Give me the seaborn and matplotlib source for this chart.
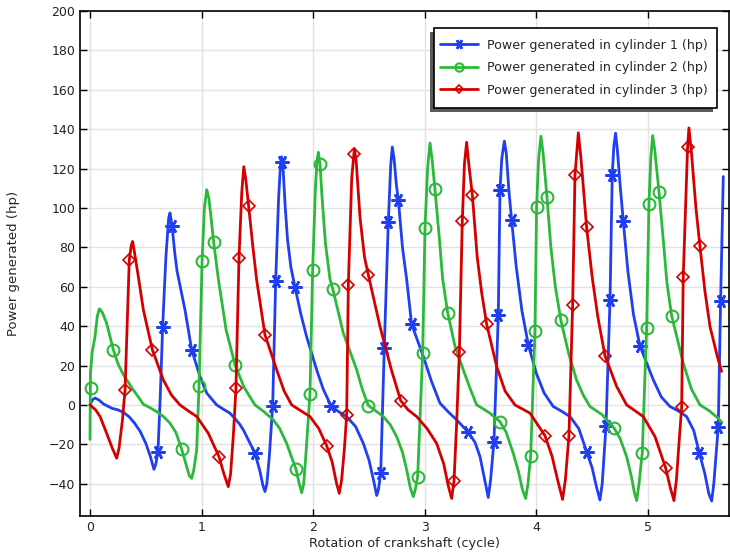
import numpy as np
import pandas as pd
import matplotlib
matplotlib.use("Agg")
import matplotlib.pyplot as plt
from matplotlib.lines import Line2D
from matplotlib.patches import Rectangle
import seaborn as sns

# cylinder 1 (blue) - curve
cyl1_x = [0.0, 0.02, 0.045, 0.08, 0.12, 0.155, 0.2, 0.25, 0.30, 0.35, 0.40, 0.45, 0.50, 0.54, 0.573,
          0.59, 0.609, 0.63, 0.651, 0.68, 0.705, 0.717, 0.735, 0.76, 0.78, 0.851, 0.911, 0.986, 1.046,
          1.135, 1.19, 1.254, 1.30, 1.344, 1.374, 1.43, 1.478, 1.52, 1.55, 1.568, 1.585, 1.607, 1.637,
          1.664, 1.69, 1.707, 1.717, 1.73, 1.75, 1.77, 1.80, 1.837, 1.89, 1.941, 2.031, 2.09, 2.16,
          2.23, 2.30, 2.38, 2.449, 2.50, 2.54, 2.569, 2.585, 2.605, 2.637, 2.673, 2.695, 2.709, 2.725,
          2.745, 2.763, 2.80, 2.838, 2.882, 2.987, 3.06, 3.136, 3.21, 3.286, 3.39, 3.45, 3.495, 3.53,
          3.569, 3.59, 3.62, 3.659, 3.674, 3.69, 3.713, 3.73, 3.755, 3.778, 3.82, 3.87, 3.928, 4.00,
          4.07, 4.151, 4.22, 4.301, 4.38, 4.45, 4.50, 4.54, 4.57, 4.59, 4.624, 4.66, 4.68, 4.695, 4.71,
          4.725, 4.75, 4.779, 4.82, 4.87, 4.928, 5.048, 5.12, 5.197, 5.27, 5.346, 5.41, 5.46, 5.51,
          5.545, 5.571, 5.59, 5.63, 5.651, 5.675]
cyl1_y = [0.0, 2.5, 3.5, 2.5, 0.5, -0.5, -1.8, -2.5, -3.8, -6, -9.3, -13.5, -19.5, -26, -32.7,
          -30, -23.7, 5, 39.8, 75, 95, 97.5, 91, 77, 68, 48.3, 28, 14.4, 6,
          0, -2, -4.2, -7, -10, -12.7, -19, -24.6, -33, -41, -44, -40, -26, -0.3,
          63, 105, 122, 126, 120, 100, 84, 70, 59.8, 46, 34.7, 17.8, 8, -0.5,
          -3.5, -5.9, -11, -19.5, -28, -38, -46, -43, -34.8, 28.8, 92.7, 122, 131, 125,
          112, 104.2, 80, 63.6, 41, 24.6, 12, 0.9, -3.5, -7.6, -13.9, -19, -26.3, -36,
          -47, -38, -18.6, 45.8, 109.3, 125, 134, 128, 108, 94, 70, 48, 30.5, 16,
          6, -0.8, -3, -5.9, -12, -23.7, -32, -42, -48.3, -40, -10.7, 53.4, 117, 132, 138,
          130, 112, 93.2, 68, 46, 30, 12.7, 4, -0.8, -3, -5.9, -13, -24.2, -35,
          -45, -48.8, -40, -11, 52.9, 116]

# cylinder 2 (green)
cyl2_x = [0.0, 0.004, 0.02, 0.045, 0.065, 0.084, 0.11, 0.149, 0.209, 0.25, 0.299, 0.388, 0.44, 0.478,
          0.54, 0.597, 0.66, 0.717, 0.77, 0.821, 0.86, 0.89, 0.911, 0.93, 0.956, 0.977, 1.004, 1.025,
          1.046, 1.065, 1.085, 1.108, 1.15, 1.22, 1.30, 1.38, 1.478, 1.56, 1.643, 1.70, 1.762, 1.846,
          1.875, 1.897, 1.915, 1.935, 1.971, 1.995, 2.02, 2.035, 2.046, 2.061, 2.08, 2.11, 2.15, 2.175,
          2.27, 2.39, 2.44, 2.494, 2.56, 2.628, 2.69, 2.748, 2.80, 2.838, 2.87, 2.897, 2.915, 2.936,
          2.981, 3.002, 3.025, 3.047, 3.065, 3.091, 3.13, 3.16, 3.205, 3.27, 3.345, 3.405, 3.465, 3.524,
          3.584, 3.674, 3.73, 3.793, 3.84, 3.875, 3.904, 3.925, 3.949, 3.987, 4.002, 4.02, 4.041, 4.06,
          4.095, 4.13, 4.17, 4.22, 4.29, 4.36, 4.42, 4.48, 4.59, 4.698, 4.75, 4.809, 4.85, 4.88, 4.899,
          4.92, 4.949, 4.988, 5.009, 5.025, 5.042, 5.06, 5.099, 5.14, 5.17, 5.212, 5.316, 5.39, 5.466,
          5.55, 5.63, 5.655]
cyl2_y = [-17.5, 16, 27, 34.7, 45, 48.8, 47, 41.5, 28, 21, 15.3, 7.6, 3.5, 0.3,
          -1.5, -3.4, -6, -9.3, -14, -22.4, -30, -36, -37.3, -33, -22.9, 9.7, 72.9, 100,
          109.3, 105, 95, 82.7, 64, 38, 20.3, 9, 0, -3.5, -7.6, -12, -19.5, -32.7,
          -40, -44.6, -40, -25, 5.4, 68.6, 110, 124, 128.3, 122.4, 105, 82, 64, 59,
          36.5, 17.8, 8, -0.3, -3, -5.9, -10, -16.1, -24, -33, -42, -46.6, -43, -36.4,
          26.6, 89.8, 120, 133, 125, 109.6, 85, 64, 46.9, 30, 17.8, 8.5, 0, -2,
          -4.2, -8.5, -14, -24.6, -34, -43, -47.5, -40, -25.8, 37.3, 100.5, 125, 136.5, 128,
          105.6, 80, 60, 42.9, 26, 12.7, 5, -0.8, -5, -11.9, -17, -26.3, -36, -45, -48.6,
          -40, -24.2, 39, 102.2, 125, 136.8, 130, 108.1, 82, 62, 45.4, 21.2, 8, 0,
          -3, -6.8, -8.5]

# cylinder 3 (red)
cyl3_x = [0.0, 0.05, 0.09, 0.149, 0.20, 0.239, 0.26, 0.29, 0.314, 0.352, 0.37, 0.382, 0.40, 0.433,
          0.478, 0.559, 0.657, 0.73, 0.806, 0.88, 0.956, 1.06, 1.156, 1.20, 1.239, 1.26, 1.285, 1.308,
          1.335, 1.36, 1.378, 1.395, 1.422, 1.46, 1.493, 1.568, 1.673, 1.74, 1.807, 1.89, 1.971, 2.05,
          2.121, 2.17, 2.21, 2.234, 2.255, 2.28, 2.30, 2.315, 2.345, 2.369, 2.385, 2.42, 2.46, 2.494,
          2.599, 2.70, 2.784, 2.85, 2.927, 3.02, 3.106, 3.17, 3.21, 3.241, 3.262, 3.285, 3.31, 3.336,
          3.355, 3.375, 3.395, 3.426, 3.47, 3.51, 3.554, 3.644, 3.72, 3.808, 3.943, 4.077, 4.14, 4.19,
          4.235, 4.26, 4.292, 4.325, 4.346, 4.376, 4.40, 4.45, 4.50, 4.55, 4.615, 4.72, 4.809, 4.958,
          5.063, 5.158, 5.20, 5.233, 5.255, 5.28, 5.302, 5.316, 5.355, 5.367, 5.39, 5.43, 5.466, 5.51,
          5.556, 5.62, 5.66]
cyl3_y = [0, -2.5, -5.9, -14.4, -22, -27.1, -22, -8, 7.6, 73.7, 81, 83, 77, 65.2,
          48.3, 28, 12.7, 5, 0, -3, -5.9, -14.4, -26.3, -35, -41.5, -35, -15, 8.5,
          74.6, 108, 121, 115, 100.8, 80, 63.6, 35.6, 17.8, 7, 0, -3, -5.9, -12,
          -20.7, -29, -40, -44.9, -38, -22, -5.1, 61, 115, 130, 124, 95, 75, 66.1,
          39.8, 18, 2.2, -2.5, -5.9, -12, -19.5, -30, -41, -47.5, -38.6, -10, 27.1, 93.2,
          122, 133.4, 122, 106.8, 75, 57, 41.2, 19.5, 7, 0, -4.2, -15.6, -26, -38,
          -48, -38, -15.6, 50.9, 116.6, 138.2, 125, 90.4, 65, 45, 24.9, 9.3, 0, -5.9,
          -16.1, -31.9, -42, -48.6, -38, -18, -1.2, 64.9, 130.9, 140.7, 128, 100, 80.5, 58,
          39.8, 25, 17]

# marker positions
mk1_x = [0.609, 0.651, 0.735, 0.911, 1.478, 1.637, 1.664, 1.717, 1.837, 2.16, 2.605, 2.637, 2.673,
         2.763, 2.882, 3.39, 3.62, 3.659, 3.674, 3.778, 3.928, 4.45, 4.624, 4.66, 4.68, 4.779, 4.928,
         5.46, 5.63, 5.651]
mk1_y = [-23.7, 39.8, 91, 28, -24.6, -0.3, 63, 123.4, 59.8, -0.5, -34.8, 28.8, 92.7,
         104.2, 41, -13.9, -18.6, 45.8, 109.3, 94, 30.5, -23.7, -10.7, 53.4, 117, 93.2, 30,
         -24.2, -11, 52.9]
mk2_x = [0.006, 0.209, 0.821, 0.977, 1.004, 1.108, 1.30, 1.846, 1.971, 1.995, 2.061, 2.175, 2.494,
         2.936, 2.981, 3.002, 3.091, 3.205, 3.674, 3.949, 3.987, 4.002, 4.095, 4.22, 4.698, 4.949,
         4.988, 5.009, 5.099, 5.212]
mk2_y = [8.5, 28, -22.4, 9.7, 72.9, 82.7, 20.3, -32.7, 5.4, 68.6, 122.4, 59, -0.3,
         -36.4, 26.6, 89.8, 109.6, 46.9, -8.5, -25.8, 37.3, 100.5, 105.6, 42.9, -11.9, -24.2,
         39, 102.2, 108.1, 45.4]
mk3_x = [0.314, 0.352, 0.559, 1.156, 1.308, 1.335, 1.422, 1.568, 2.121, 2.30, 2.315, 2.369, 2.494,
         2.784, 3.262, 3.31, 3.336, 3.426, 3.554, 4.077, 4.292, 4.325, 4.346, 4.45, 4.615, 5.158,
         5.302, 5.316, 5.355, 5.466]
mk3_y = [7.6, 73.7, 28, -26.3, 8.5, 74.6, 100.8, 35.6, -20.7, -5.1, 61, 127.5, 66.1,
         2.2, -38.6, 27.1, 93.2, 106.8, 41.2, -15.6, -15.6, 50.9, 116.6, 90.4, 24.9, -31.9,
         -1.2, 64.9, 130.9, 80.5]

labels = ["Power generated in cylinder 1 (hp)",
          "Power generated in cylinder 2 (hp)",
          "Power generated in cylinder 3 (hp)"]
colors = ["#1f3ff0", "#2cb83a", "#d40000"]

sns.set_theme(style="ticks")
plt.rcParams["font.family"] = ["DejaVu Sans"]

fig = plt.figure(figsize=(7.3, 5.56), dpi=100)
ax = fig.add_axes([0.1096, 0.072, 0.889, 0.908])

curves = [(cyl1_x, cyl1_y, mk1_x, mk1_y), (cyl2_x, cyl2_y, mk2_x, mk2_y), (cyl3_x, cyl3_y, mk3_x, mk3_y)]
marker_styles = [dict(marker=(6, 2, 90), markersize=10, markeredgewidth=1.8),
                 dict(marker="o", markersize=8.5, markeredgewidth=1.5, markerfacecolor="none"),
                 dict(marker="D", markersize=5.8, markeredgewidth=1.2, markerfacecolor="none")]

handles = []
for (lx, ly, mx, my), c, ms, lab in zip(curves, colors, marker_styles, labels):
    df = pd.DataFrame({"x": lx, "y": ly})
    sns.lineplot(data=df, x="x", y="y", ax=ax, color=c, linewidth=2, sort=False, estimator=None)
    ax.plot(mx, my, linestyle="none", color=c, markeredgecolor=c, **ms)
    leg_ms = dict(ms)
    leg_ms["markersize"] = ms["markersize"] * 0.7
    handles.append(Line2D([], [], color=c, linewidth=2, markeredgecolor=c, **leg_ms))

ax.set_xlim(-0.0896, 5.726)
ax.set_ylim(-56.4, 200)
ax.set_xticks(range(0, 6))
ax.set_yticks(range(-40, 201, 20))
ax.grid(True, color="#e2e2e2", linewidth=1)
ax.set_axisbelow(True)
for s in ax.spines.values():
    s.set_linewidth(1.2)
    s.set_color("black")
ax.tick_params(direction="in", top=True, right=True, labelsize=9, length=5, width=1, colors="black")
ax.tick_params(axis="both", labelcolor="#222222")
ax.set_xlabel("Rotation of crankshaft (cycle)", fontsize=9.3, labelpad=2)
ax.set_ylabel("Power generated (hp)", fontsize=9.5, labelpad=21)

# legend without its own frame; the boxed frame and the offset shadow are drawn below
leg = ax.legend(handles, labels, loc="upper right", bbox_to_anchor=(0.9808, 0.9627), fontsize=9.1,
                frameon=False, handlelength=3.0, handletextpad=0.7,
                borderpad=0.2, labelspacing=0.75)
leg.set_zorder(6)

fig.canvas.draw()
bb = leg.get_window_extent()
pad_l, pad_r, pad_y = 3.5, 6.5, 8.5
fx, fy = bb.x0 - pad_l, bb.y0 - pad_y
fw, fh = bb.width + pad_l + pad_r, bb.height + 2 * pad_y
shadow = Rectangle((fx - 4, fy - 4), fw, fh, transform=None,
                   facecolor="#5a5a5a", edgecolor="none", zorder=5.4, clip_on=False)
frame = Rectangle((fx, fy), fw, fh, transform=None,
                  facecolor="white", edgecolor="black", linewidth=1.2, zorder=5.6, clip_on=False)
ax.add_artist(shadow)
ax.add_artist(frame)

fig.savefig("out.png", dpi=100)
